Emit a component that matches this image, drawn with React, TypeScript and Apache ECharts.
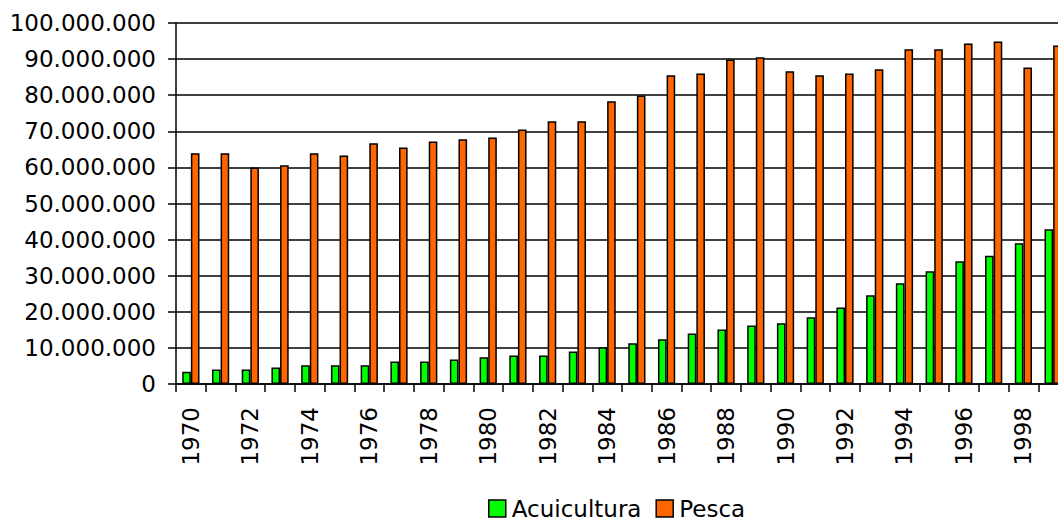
import React, { useEffect, useRef } from "react";
import * as echarts from "echarts";

const years = [
  "1970", "1971", "1972", "1973", "1974", "1975", "1976", "1977", "1978", "1979",
  "1980", "1981", "1982", "1983", "1984", "1985", "1986", "1987", "1988", "1989",
  "1990", "1991", "1992", "1993", "1994", "1995", "1996", "1997", "1998", "1999",
];

const acuicultura = [
  3.4, 4.0, 4.0, 4.6, 5.2, 5.2, 5.2, 6.2, 6.2, 6.8,
  7.4, 7.9, 7.9, 9.0, 10.2, 11.3, 12.4, 14.0, 15.1, 16.2,
  16.8, 18.5, 21.2, 24.6, 27.9, 31.2, 34.0, 35.5, 39.0, 42.9,
].map((v) => v * 1000000);

const pesca = [
  63.9, 63.9, 60.0, 60.6, 63.9, 63.3, 66.7, 65.5, 67.2, 67.8,
  68.3, 70.5, 72.8, 72.8, 78.3, 79.9, 85.5, 86.0, 89.9, 90.5,
  86.6, 85.5, 86.0, 87.2, 92.7, 92.7, 94.3, 94.9, 87.7, 93.8,
].map((v) => v * 1000000);

const seriesNames = ["Acuicultura", "Pesca"];
const seriesColors = ["#00FF00", "#FF6600"];

const yMin = 0;
const yMax = 100000000;
const yInterval = 10000000;

const FONT = "DejaVu Sans";

function formatThousands(v: number): string {
  return String(Math.round(v)).replace(/\B(?=(\d{3})+(?!\d))/g, ".");
}

export default function App() {
  const ref = useRef<HTMLDivElement>(null);

  useEffect(() => {
    if (!ref.current) return;
    const chart = echarts.init(ref.current, null, { renderer: "svg" });
    const barStyle = (color: string) => ({
      color,
      borderColor: "#000",
      borderWidth: 1.5,
    });
    chart.setOption({
      animation: false,
      backgroundColor: "#fff",
      textStyle: { fontFamily: FONT },
      grid: {
        left: 176,
        top: 23,
        bottom: 138,
        right: -10,
        containLabel: false,
        outerBoundsMode: "none",
      },
      legend: {
        data: seriesNames,
        top: 492,
        left: 483,
        padding: 5,
        icon: "rect",
        itemWidth: 17,
        itemHeight: 17,
        itemGap: 14,
        textStyle: { fontFamily: FONT, fontSize: 23, color: "#000", padding: [0, 0, 0, 1] },
        itemStyle: { borderColor: "#000", borderWidth: 1.5 },
      },
      xAxis: {
        type: "category",
        data: years,
        boundaryGap: true,
        axisLine: { show: true, lineStyle: { color: "#000", width: 1.5 } },
        axisTick: {
          show: true,
          interval: 0,
          length: 8,
          inside: false,
          alignWithLabel: false,
          lineStyle: { color: "#000", width: 1.5 },
        },
        axisLabel: {
          interval: 1,
          rotate: 90,
          margin: 23,
          fontFamily: FONT,
          fontSize: 23,
          color: "#000",
        },
        splitLine: { show: false },
      },
      yAxis: {
        type: "value",
        min: yMin,
        max: yMax,
        interval: yInterval,
        axisLine: { show: true, lineStyle: { color: "#000", width: 1.5 } },
        axisTick: {
          show: true,
          length: 8,
          inside: false,
          lineStyle: { color: "#000", width: 1.5 },
        },
        axisLabel: {
          margin: 20,
          fontFamily: FONT,
          fontSize: 23,
          color: "#000",
          padding: [5, 0, 0, 0],
          formatter: (v: number) => formatThousands(v),
        },
        splitLine: { show: true, lineStyle: { color: "#000", width: 1.5 } },
      },
      series: [
        {
          name: seriesNames[0],
          type: "bar",
          data: acuicultura,
          barGap: "0%",
          barCategoryGap: "42%",
          itemStyle: barStyle(seriesColors[0]),
        },
        {
          name: seriesNames[1],
          type: "bar",
          data: pesca,
          barGap: "0%",
          barCategoryGap: "42%",
          itemStyle: barStyle(seriesColors[1]),
        },
      ],
    });
    return () => chart.dispose();
  }, []);

  return (
    <div
      ref={ref}
      style={{ position: "fixed", left: 0, top: 0, width: 1058, height: 522, overflow: "hidden" }}
    />
  );
}
